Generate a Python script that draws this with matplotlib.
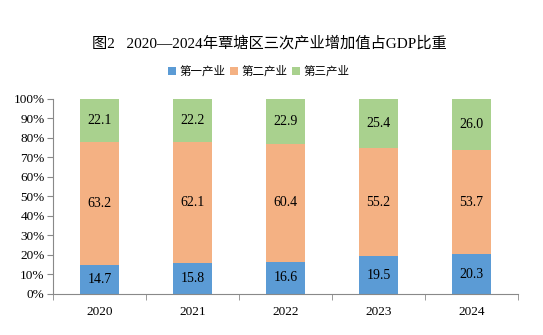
import matplotlib.pyplot as plt
import numpy as np

plt.rcParams['font.family'] = ['Liberation Serif', 'Noto Sans CJK SC']

years = ['2020', '2021', '2022', '2023', '2024']
primary = [14.7, 15.8, 16.6, 19.5, 20.3]
secondary = [63.2, 62.1, 60.4, 55.2, 53.7]
tertiary = [22.1, 22.2, 22.9, 25.4, 26.0]
series_names = ['第一产业', '第二产业', '第三产业']
colors = ['#5B9BD5', '#F4B183', '#A9D18E']

data = np.array([primary, secondary, tertiary])
share = data / data.sum(axis=0) * 100

fig = plt.figure(figsize=(5.43, 3.35), dpi=100)
ax = fig.add_axes([0.0976, 0.1224, 0.8564, 0.5821])

x = np.arange(len(years))
bottom = np.zeros(len(years))
for vals, pct, name, c in zip(data, share, series_names, colors):
    ax.bar(x, pct, 0.41, bottom=bottom, color=c, label=name)
    for xi, b, p, v in zip(x, bottom, pct, vals):
        ax.text(xi, b + p / 2, f'{v:.1f}', ha='center', va='center', fontsize=10)
    bottom += pct

ax.set_xlim(-0.5, len(years) - 0.5)
ax.set_ylim(0, 100)
ax.set_yticks(np.arange(0, 101, 10))
ax.set_yticklabels([f'{v}%' for v in range(0, 101, 10)], fontsize=9.5)
ax.set_xticks(x)
ax.set_xticklabels(years, fontsize=9.5)
ax.set_xticks(np.arange(-0.5, len(years)), minor=True)
ax.tick_params(axis='x', which='major', length=0, pad=9)
ax.tick_params(axis='x', which='minor', length=4, color='#898989', direction='out')
ax.tick_params(axis='y', length=4, color='#898989', direction='out', pad=2)
for s in ['top', 'right']:
    ax.spines[s].set_visible(False)
for s in ['left', 'bottom']:
    ax.spines[s].set_color('#898989')

fig.text(0.497, 0.872, '图2   2020—2024年覃塘区三次产业增加值占GDP比重', ha='center', va='center', fontsize=11)
fig.legend(loc='center', bbox_to_anchor=(0.476, 0.785), ncol=3, frameon=False, fontsize=8.3,
           handlelength=0.7, handleheight=0.7, handletextpad=0.3, columnspacing=0.4)

fig.savefig('out.png', dpi=100)
